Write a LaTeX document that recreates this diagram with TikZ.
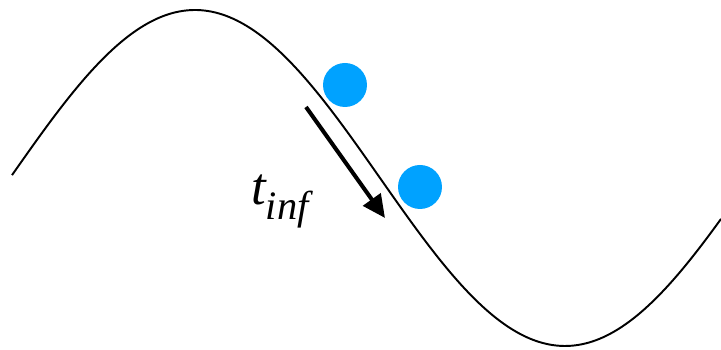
\documentclass[tikz,border=0pt]{standalone}
\usepackage{fontspec}
\setmainfont{Liberation Serif}
\usetikzlibrary{arrows.meta, positioning}
\definecolor{ballblue}{RGB}{0,162,255}

\begin{document}
\begin{tikzpicture}[
        x=0.02cm, y=-0.02cm,
        ball/.style={circle, fill=ballblue, minimum size=0.88cm, inner sep=0pt},
        wave/.style={line width=1.1pt},
        move/.style={draw, line width=2.3pt, -{Triangle[length=13pt, width=12pt]}},
        label/.style={font=\fontsize{30}{31}\selectfont\itshape, inner sep=0pt}
    ]
    \useasboundingbox (0,0) rectangle (721,350);

    % Curve
    \draw[wave, domain=12:721, samples=200, smooth] plot (\x, {178-168*sin(0.48649*(\x-10))});

    % Balls
    \node[ball] (ball1) at (345,85) {};
    \node[ball] (ball2) at (420,187) {};

    % Motion arrow
    \coordinate (from) at (306,107);
    \coordinate (to) at (385,218);
    \path [move] (from) -- (to);

    % Label
    \node[label, anchor=base west] (tinf) at (251,205) {t\raisebox{-8pt}{\fontsize{23}{24}\selectfont inf}};
\end{tikzpicture}
\end{document}
